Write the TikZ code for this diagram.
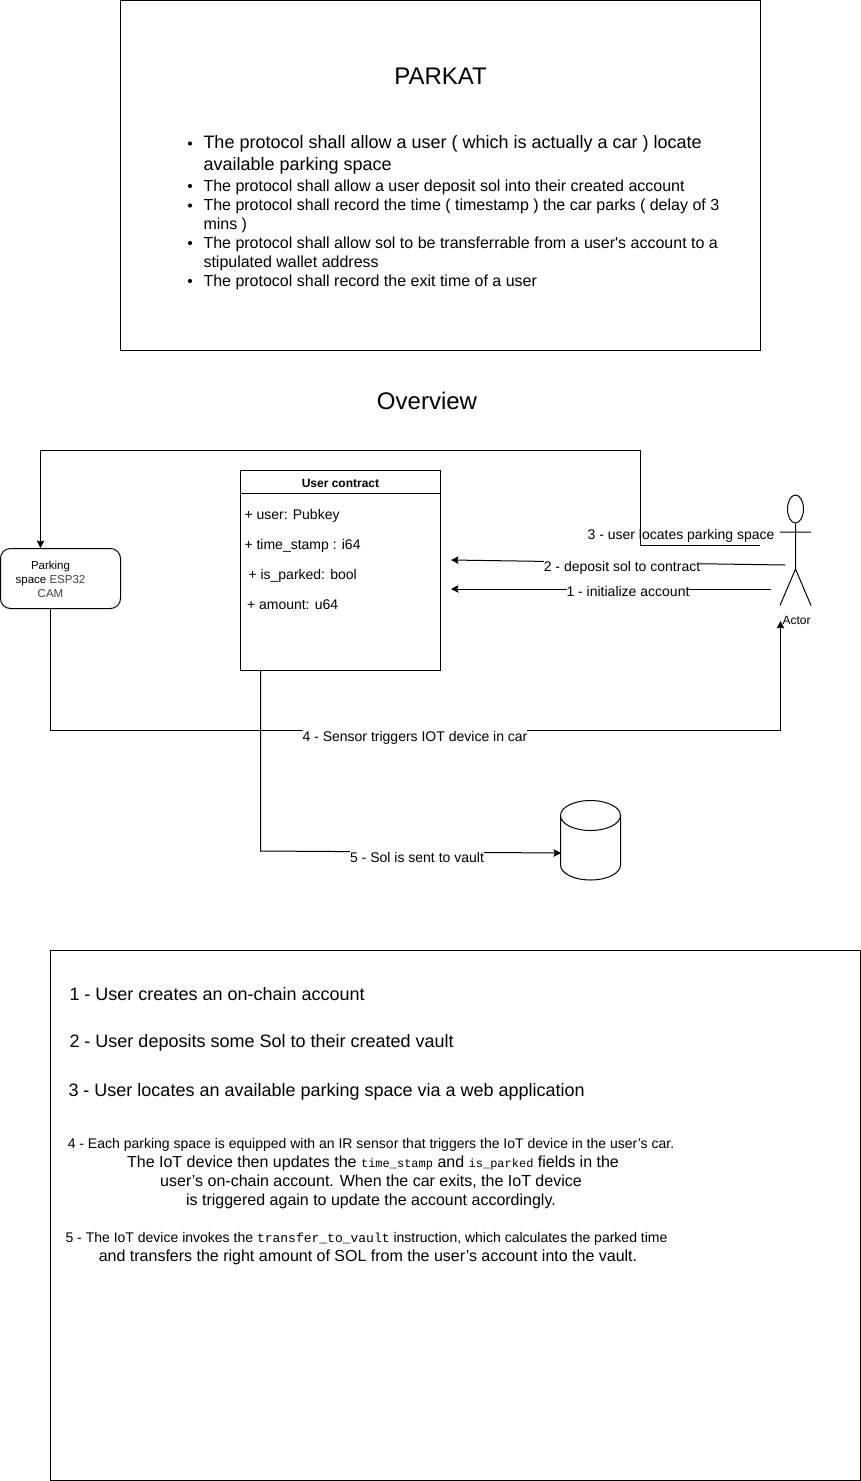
\documentclass[tikz,border=0pt]{standalone}
\usepackage{fontspec}
\setmainfont{Liberation Sans}
\setmonofont{Liberation Mono}
\usetikzlibrary{arrows.meta,shapes.geometric}
\newcommand{\meret}[1]{\fontsize{#1}{#1}\selectfont}
\newcommand{\kodResz}[2]{{\ttfamily\meret{#1}#2}} %meret,szoveg
\newcommand{\listaElem}[4] %nev,alapvonal,meret,szoveg
{\node[bulletDot] at (190,#2-5) {};
\node[listText,font=\meret{#3}] (#1) at (203,#2) {#4};}
\newcommand{\listaSor}[4] %nev,alapvonal,meret,szoveg
{\node[listText,font=\meret{#3}] (#1) at (203,#2) {#4};}
\newcommand{\mezoSor}[4] %nev,x,alapvonal,szoveg
{\node[fieldText] (#1) at (#2,#3) {#4};}
\definecolor{camgray}{rgb}{0.25,0.25,0.25}
\tikzset{
	frameBox/.style={draw,rectangle,minimum width=#1,inner sep=0},
	bulletDot/.style={circle,fill,inner sep=0,minimum size=4.2},
	listText/.style={anchor=base west,inner sep=0},
	fieldText/.style={anchor=base west,inner sep=0,font=\meret{14}},
	flowLabel/.style={anchor=base,inner sep=0,font=\meret{14},text height=12.5,fill=white},
	flowArrow/.style={-{Stealth[length=7.5pt,width=7.5pt,inset=1.2pt]}},
	stepText/.style={anchor=base west,inner sep=0,font=\meret{18}},
	noteText/.style={anchor=base,inner sep=0,font=\meret{16}},
	noteSmall/.style={anchor=base,inner sep=0,font=\meret{14}},
	headText/.style={anchor=base,inner sep=0,font=\meret{24}}
}
\begin{document}
\begin{tikzpicture}[x=1pt,y=-1pt,line width=1pt]
	\useasboundingbox (0,0) rectangle (861,1481);
	% felso doboz
	\node[frameBox=640,minimum height=350] (specBox) at (440.5,175.5) {};
	\node[headText] (titleText) at (440.5,84) {PARKAT};
	\listaElem{itemOne}{148.5}{18}{The protocol shall allow a user ( which is actually a car ) locate}
	\listaSor{itemOneB}{170}{18}{available parking space}
	\listaElem{itemTwo}{191}{16}{The protocol shall allow a user deposit sol into their created account}
	\listaElem{itemThree}{210.5}{16}{The protocol shall record the time ( timestamp ) the car parks ( delay of 3}
	\listaSor{itemThreeB}{229.5}{16}{mins )}
	\listaElem{itemFour}{248}{16}{The protocol shall allow sol to be transferrable from a user\textquotesingle s account to a}
	\listaSor{itemFourB}{267}{16}{stipulated wallet address}
	\listaElem{itemFive}{286}{16}{The protocol shall record the exit time of a user}
	\node[headText] (overviewText) at (427,409) {Overview};
	% user contract
	\node[frameBox=200,minimum height=200] (contract) at (340.5,570.5) {};
	\node[frameBox=200,minimum height=23] (contractHead) at (340.5,482) {};
	\node[anchor=base,inner sep=0,font=\bfseries\meret{12}] (contractText) at (340.5,487) {User contract};
	\mezoSor{fieldUser}{244}{519}{+ user: Pubkey}
	\mezoSor{fieldTime}{244}{549}{+ time\_stamp : i64}
	\mezoSor{fieldParked}{248}{579}{+ is\_parked: bool}
	\mezoSor{fieldAmount}{246.5}{609}{+ amount: u64}
	% parking space
	\node[draw,rectangle,rounded corners=10,minimum width=120,minimum height=60,inner sep=0] (parking) at (60.5,578.5) {};
	\node[anchor=base,inner sep=0,font=\meret{11.5}] (parkingA) at (50.5,569) {Parking};
	\node[anchor=base,inner sep=0,font=\meret{11.5}] (parkingB) at (50.5,583.5) {space {\color{camgray}ESP32}};
	\node[anchor=base,inner sep=0,font=\meret{11.5},text=camgray] (parkingC) at (50.5,597.5) {CAM};
	% actor
	\node[draw,ellipse,minimum width=16,minimum height=28,inner sep=0] (actorHead) at (795.5,509) {};
	\coordinate (actorHip) at (795.5,569);
	\draw (actorHead.south)--(actorHip)
	(actorHip)--(780,605.5)
	(actorHip)--(811,605.5)
	(780,532)--(811,532);
	\node[anchor=base,inner sep=0,font=\meret{12}] (actorText) at (796.5,624) {Actor};
	% vault
	\draw (590.5,815.5) ellipse (30 and 15)
	(560.5,815.5)--(560.5,865) arc (180:0:30 and 15)--(620.5,815.5);
	% nyilak
	\coordinate (locateStart) at (760,545);
	\coordinate (depositStart) at (785,565);
	\coordinate (depositEnd) at (451,560);
	\coordinate (initStart) at (771,589);
	\coordinate (initEnd) at (451,589);
	\coordinate (actorIn) at (780.5,621);
	\coordinate (vaultIn) at (561,853);
	\draw[flowArrow] (locateStart)--(640.5,545)--(640.5,450.5)--(40.5,450.5)--(40.5,548);
	\draw[flowArrow] (depositStart)--(depositEnd);
	\draw[flowArrow] (initStart)--(initEnd);
	\draw[flowArrow] (50.5,608.5)--(50.5,730.5)--(780.5,730.5)--(actorIn);
	\draw[flowArrow] (260.5,670.5)--(260.5,851)--(vaultIn);
	\node[flowLabel,fill=none] (labelThree) at (681,539.5) {3 - user locates parking space};
	\node[flowLabel] (labelTwo) at (622,571) {2 - deposit sol to contract};
	\node[flowLabel] (labelOne) at (628,596) {1 - initialize account};
	\node[flowLabel] (labelFour) at (415,741) {4 - Sensor triggers IOT device in car};
	\node[flowLabel] (labelFive) at (417,862) {5 - Sol is sent to vault};
	% also doboz
	\node[frameBox=810,minimum height=530] (stepBox) at (455.5,1215.5) {};
	\node[stepText] (stepOne) at (69,1000) {1 - User creates an on-chain account};
	\node[stepText] (stepTwo) at (69,1047) {2 - User deposits some Sol to their created vault};
	\node[stepText] (stepThree) at (68,1096.5) {3 - User locates an available parking space via a web application};
	\node[noteSmall] (stepFourA) at (371,1148) {4 - Each parking space is equipped with an IR sensor that triggers the IoT device in the user’s car.};
	\node[noteText] (stepFourB) at (373,1167) {The IoT device then updates the \kodResz{12}{time\_stamp} and \kodResz{12}{is\_parked} fields in the};
	\node[noteText] (stepFourC) at (371,1186) {user’s on-chain account. When the car exits, the IoT device};
	\node[noteText] (stepFourD) at (371,1205.5) {is triggered again to update the account accordingly.};
	\node[noteSmall] (stepFiveA) at (366.5,1242) {5 - The IoT device invokes the \kodResz{13}{transfer\_to\_vault} instruction, which calculates the parked time};
	\node[noteText] (stepFiveB) at (368,1261) {and transfers the right amount of SOL from the user’s account into the vault.};
\end{tikzpicture}
\end{document}
